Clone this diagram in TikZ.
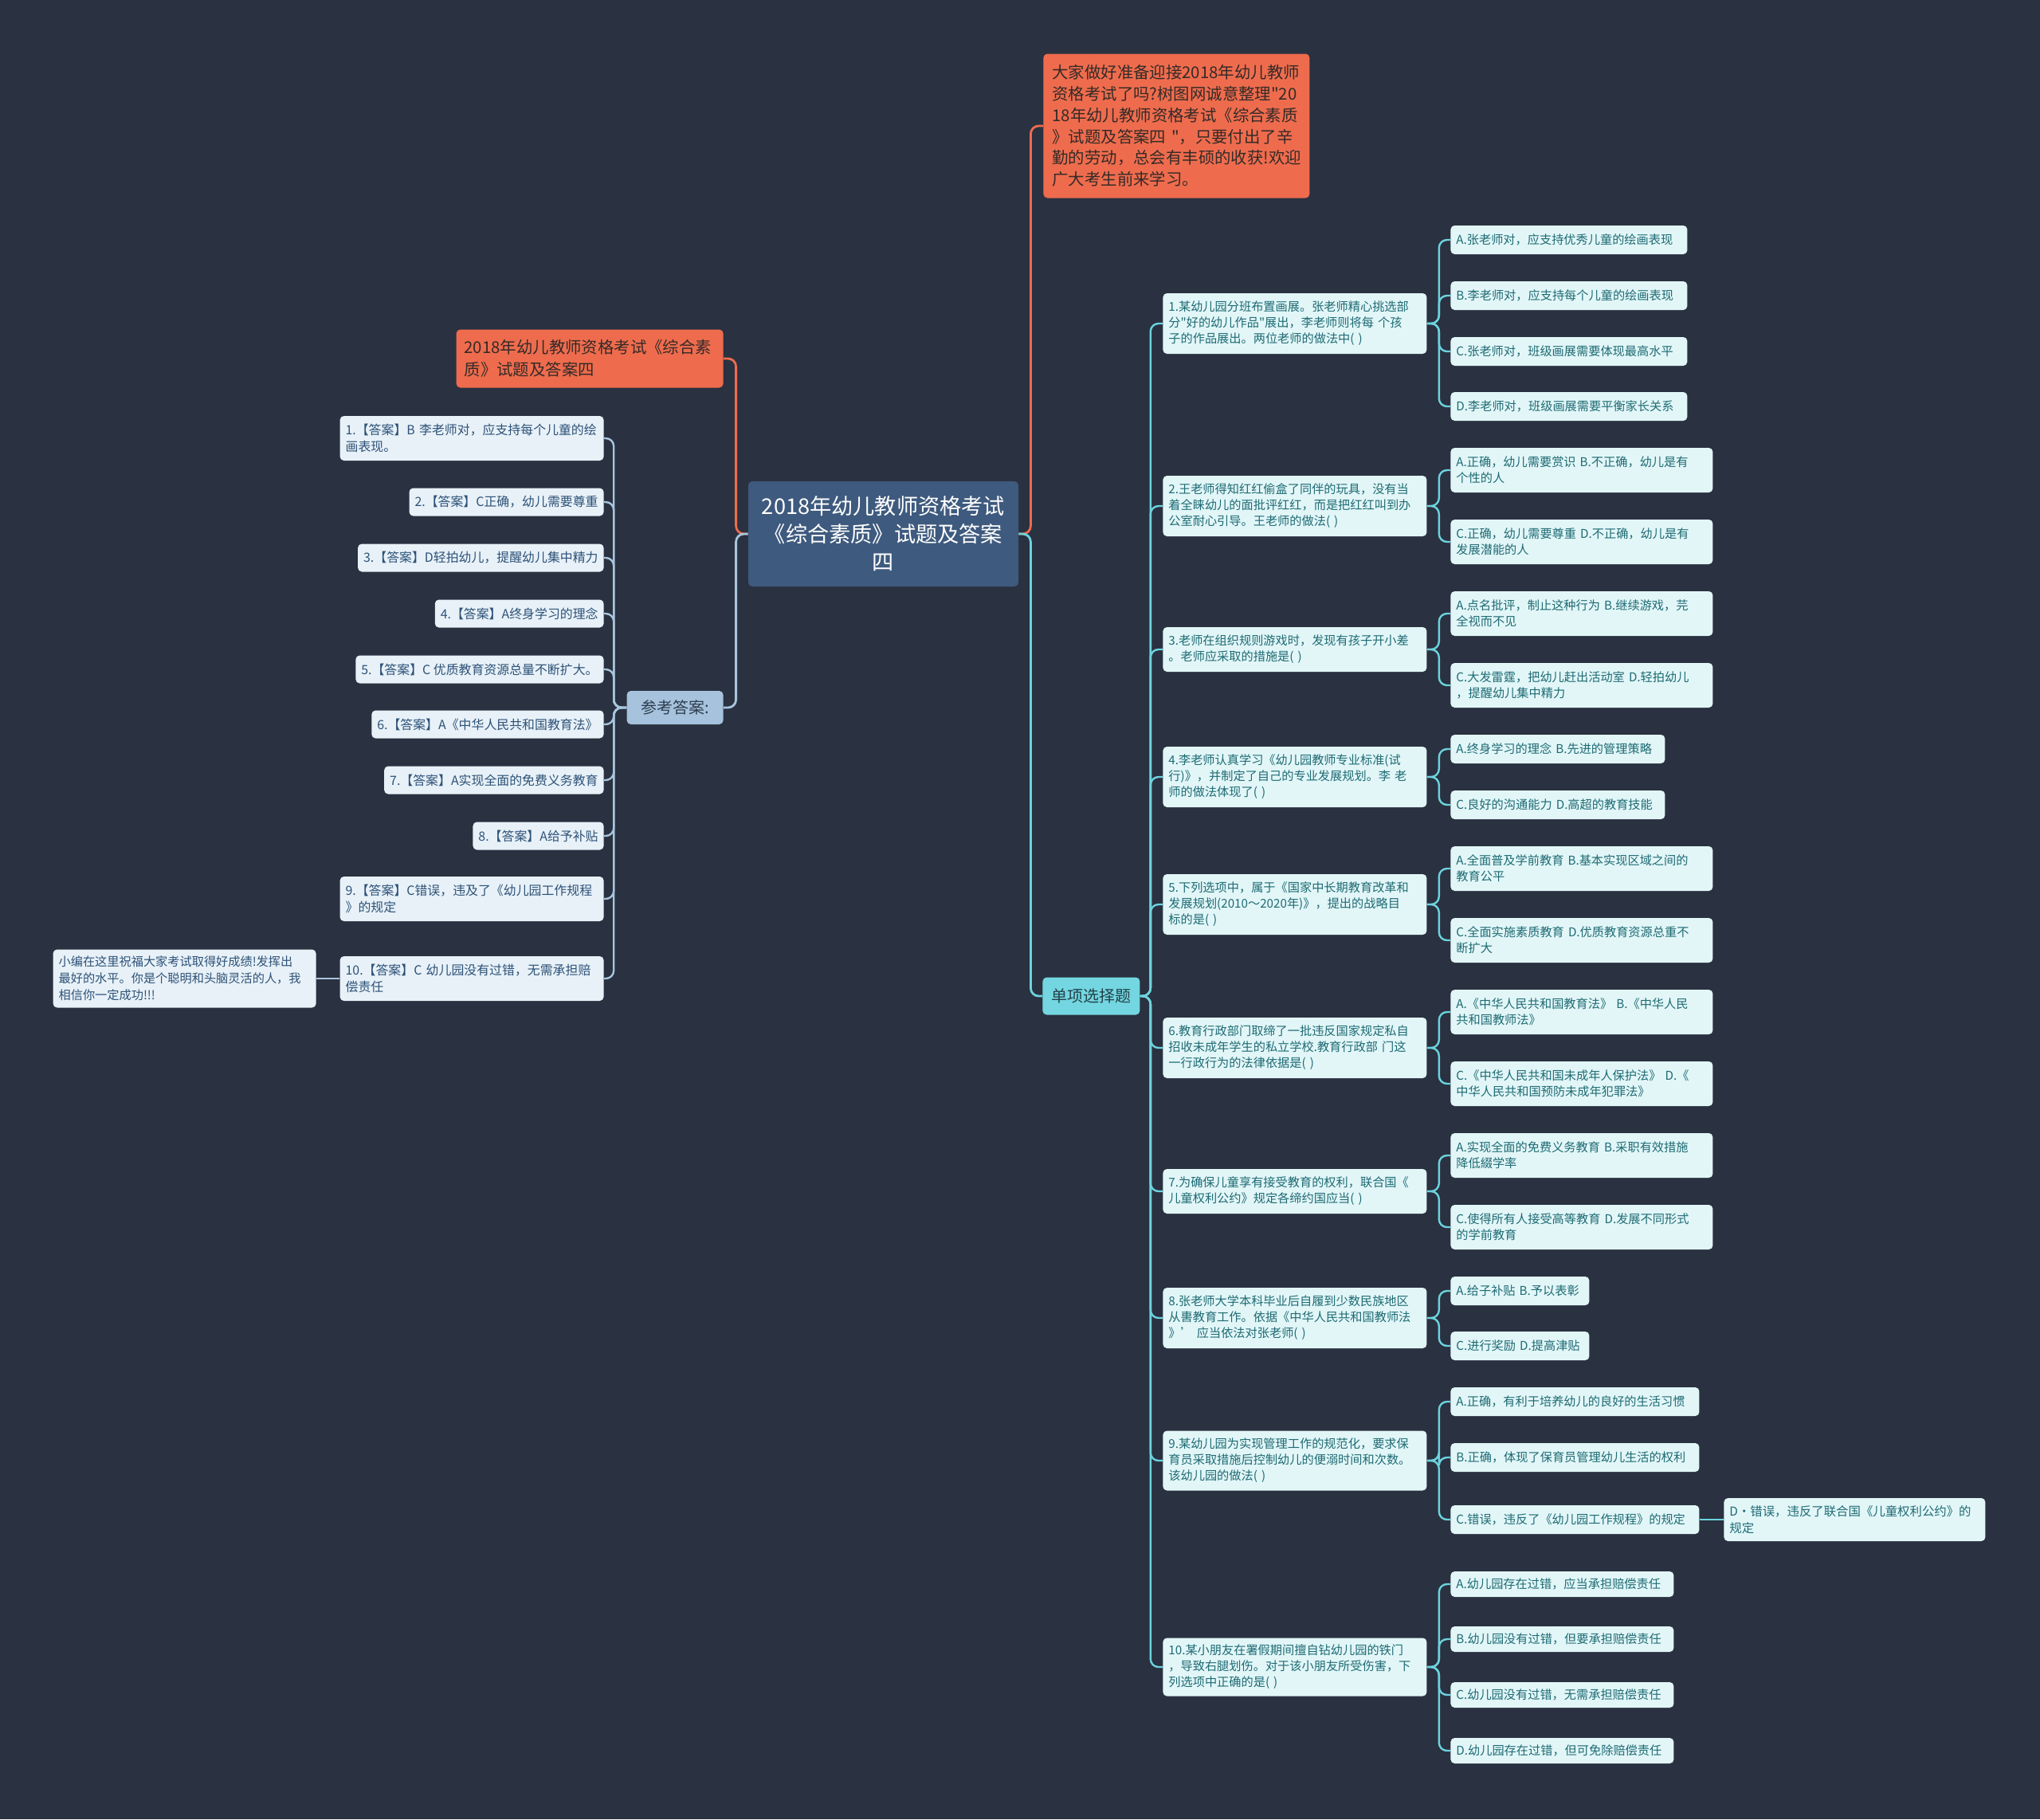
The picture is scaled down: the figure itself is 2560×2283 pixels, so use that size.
\documentclass[tikz,border=0pt]{standalone}
\usepackage{fontspec}
\setmainfont{Noto Sans CJK SC}[Ligatures=TeXOff]
\definecolor{bg}{HTML}{2A3140}
\definecolor{orn}{HTML}{EE6C4D}
\definecolor{orntext}{HTML}{352A28}
\definecolor{cfill}{HTML}{3E5A7E}
\definecolor{ansfill}{HTML}{A6C2DC}
\definecolor{anstext}{HTML}{2E3E50}
\definecolor{lconn}{HTML}{A9C5DE}
\definecolor{afill}{HTML}{E8F1F8}
\definecolor{atext}{HTML}{2D5277}
\definecolor{sfill}{HTML}{73D6E0}
\definecolor{stext}{HTML}{23424A}
\definecolor{rconn}{HTML}{6CD3DE}
\definecolor{qfill}{HTML}{E2F6F8}
\definecolor{qtext}{HTML}{1E6B73}
\begin{document}
\begin{tikzpicture}[x=0.5pt,y=-0.5pt,
  box/.style={rounded corners=2.5pt, inner ysep=1pt, align=left},
  qb/.style 2 args={box, fill=qfill, text=qtext, inner xsep=3.5pt, font=\fontsize{7.6pt}{10pt}\selectfont, anchor=west, text width=#1, minimum height=#2},
  ab/.style={box, fill=afill, text=atext, inner xsep=3.5pt, font=\fontsize{7.95pt}{10.3pt}\selectfont, anchor=east},
  rc/.style={draw=rconn, line width=1.2pt, rounded corners=5pt},
  lc/.style={draw=lconn, line width=1.2pt, rounded corners=5pt},
  oc/.style={draw=orn, line width=1.4pt, rounded corners=5pt},
]
\fill[bg] (0,0) rectangle (2560,2283);
\useasboundingbox (0,0) rectangle (2560,2283);

% central and main branches
\node[box, fill=cfill, text=white, align=center, inner xsep=3.5pt, text width=162.5pt, minimum height=66pt,
  font=\fontsize{13.6pt}{17.5pt}\selectfont] (c) at (1108.5,670) {2018年幼儿教师资格考试\\《综合素质》试题及答案\\四};
\node[box, fill=orn, text=orntext, anchor=west, inner xsep=5.5pt, text width=156pt, minimum height=90.5pt,
  font=\fontsize{10.2pt}{13.4pt}\selectfont] (intro) at (1309,158) {大家做好准备迎接2018年幼儿教师\\资格考试了吗?树图网诚意整理"20\\18年幼儿教师资格考试《综合素质\\》试题及答案四~"，只要付出了辛\\勤的劳动，总会有丰硕的收获!欢迎\\广大考生前来学习。};
\node[box, fill=orn, text=orntext, anchor=east, inner xsep=5pt, text width=157.5pt, minimum height=36.5pt,
  font=\fontsize{10.2pt}{14pt}\selectfont] (title) at (908,450) {2018年幼儿教师资格考试《综合素\\质》试题及答案四};
\node[box, fill=ansfill, text=anstext, anchor=east, align=center, minimum width=60.5pt, minimum height=21pt,
  font=\fontsize{10pt}{12pt}\selectfont] (ans) at (908,888) {参考答案:};
\node[box, fill=sfill, text=stext, anchor=west, align=center, minimum width=61pt, minimum height=23.5pt,
  font=\fontsize{10pt}{12pt}\selectfont] (single) at (1308,1250) {单项选择题};

\draw[oc] (c.east) -- ++(15,0) |- (intro.west);
\draw[rc, line width=1.4pt] (c.east) -- ++(15,0) |- (single.west);
\draw[oc] (c.west) -- ++(-15,0) |- (title.east);
\draw[lc, line width=1.4pt] (c.west) -- ++(-15,0) |- (ans.east);

% answers
\node[ab, text width=158.5pt, minimum height=28pt] (a1) at (758,550) {1.【答案】B 李老师对，应支持每个儿童的绘\\画表现。};
\node[ab, minimum height=17.5pt] (a2) at (758,630) {2.【答案】C正确，幼儿需要尊重};
\node[ab, minimum height=17.5pt] (a3) at (758,700) {3.【答案】D轻拍幼儿，提醒幼儿集中精力};
\node[ab, minimum height=17.5pt] (a4) at (758,770) {4.【答案】A终身学习的理念};
\node[ab, minimum height=17.5pt] (a5) at (758,840) {5.【答案】C 优质教育资源总量不断扩大。};
\node[ab, minimum height=17.5pt] (a6) at (758,909) {6.【答案】A《中华人民共和国教育法》};
\node[ab, minimum height=17.5pt] (a7) at (758,979) {7.【答案】A实现全面的免费义务教育};
\node[ab, minimum height=17.5pt] (a8) at (758,1049) {8.【答案】A给予补贴};
\node[ab, text width=158.5pt, minimum height=28pt] (a9) at (758,1128) {9.【答案】C错误，违及了《幼儿园工作规程\\》的规定};
\node[ab, text width=158.5pt, minimum height=28pt] (a10) at (758,1228) {10.【答案】C 幼儿园没有过错，无需承担赔\\偿责任};
\node[ab, text width=158pt, minimum height=36.5pt, font=\fontsize{7.6pt}{10.4pt}\selectfont] (note) at (397,1228) {小编在这里祝福大家考试取得好成绩!发挥出\\最好的水平。你是个聪明和头脑灵活的人，我\\相信你一定成功!!!};
\foreach \i in {1,...,10} {\draw[lc] (ans.west) -- ++(-16,0) |- (a\i.east);}
\draw[lc] (a10.west) -- (note.east);

% questions
\node[qb={158.5pt}{38pt}] (q1) at (1459,406) {1.某幼儿园分班布置画展。张老师精心挑选部\\分"好的幼儿作品"展出，李老师则将每 个孩\\子的作品展出。两位老师的做法中( )};
\node[qb={158.5pt}{38pt}] (q2) at (1459,635) {2.王老师得知红红偷盒了同伴的玩具，没有当\\着全睐幼儿的面批评红红，而是把红红叫到办\\公室耐心引导。王老师的做法( )};
\node[qb={158.5pt}{28pt}] (q3) at (1459,815) {3.老师在组织规则游戏时，发现有孩子开小差\\。老师应采取的措施是( )};
\node[qb={158.5pt}{38pt}] (q4) at (1459,975) {4.李老师认真学习《幼儿园教师专业标准(试\\行)》，并制定了自己的专业发展规划。李 老\\师的做法体现了( )};
\node[qb={158.5pt}{38pt}] (q5) at (1459,1135) {5.下列选项中，属于《国家中长期教育改革和\\发展规划(2010～2020年)》，提出的战略目\\标的是( )};
\node[qb={158.5pt}{38pt}] (q6) at (1459,1315) {6.教育行政部门取缔了一批违反国家规定私自\\招收未成年学生的私立学校.教育行政部 门这\\一行政行为的法律依据是( )};
\node[qb={158.5pt}{28pt}] (q7) at (1459,1495) {7.为确保儿童享有接受教育的权利，联合国《\\儿童权利公约》规定各缔约国应当( )};
\node[qb={158.5pt}{38pt}] (q8) at (1459,1654) {8.张老师大学本科毕业后自履到少数民族地区\\从軎教育工作。依据《中华人民共和国教师法\\》’ 应当依法对张老师( )};
\node[qb={158.5pt}{37.5pt}] (q9) at (1459,1833) {9.某幼儿园为实现管理工作的规范化，要求保\\育员采取措施后控制幼儿的便溺时间和次数。\\该幼儿园的做法( )};
\node[qb={158.5pt}{36.5pt}] (q10) at (1459,2092) {10.某小朋友在署假期间擅自钻幼儿园的铁门\\，导致右腿划伤。对于该小朋友所受伤害，下\\列选项中正确的是( )};
\foreach \i in {1,...,10} {\draw[rc] (single.east) -- ++(13,0) |- (q\i.west);}

% options
\node[qb={141.5pt}{18pt}] (q1a) at (1820,301) {A.张老师对，应支持优秀儿童的绘画表现};
\node[qb={141.5pt}{18pt}] (q1b) at (1820,371) {B.李老师对，应支持每个儿童的绘画表现};
\node[qb={141.5pt}{18pt}] (q1c) at (1820,441) {C.张老师对，班级画展需要体现最高水平};
\node[qb={141.5pt}{18pt}] (q1d) at (1820,510) {D.李老师对，班级画展需要平衡家长关系};
\node[qb={157.5pt}{28pt}] (q2a) at (1820,590) {A.正确，幼儿需要赏识 B.不正确，幼儿是有\\个性的人};
\node[qb={157.5pt}{28pt}] (q2c) at (1820,680) {C.正确，幼儿需要尊重 D.不正确，幼儿是有\\发展潜能的人};
\node[qb={157.5pt}{28pt}] (q3a) at (1820,770) {A.点名批评，制止这种行为 B.继续游戏，芫\\全视而不见};
\node[qb={157.5pt}{28pt}] (q3c) at (1820,860) {C.大发雷霆，把幼儿赶出活动室 D.轻拍幼儿\\，提醒幼儿集中精力};
\node[qb={127.5pt}{18pt}] (q4a) at (1820,940) {A.终身学习的理念 B.先进的管理策略};
\node[qb={127.5pt}{18pt}] (q4c) at (1820,1010) {C.良好的沟通能力 D.高超的教育技能};
\node[qb={157.5pt}{28pt}] (q5a) at (1820,1090) {A.全面普及学前教育 B.基本实现区域之间的\\教育公平};
\node[qb={157.5pt}{28pt}] (q5c) at (1820,1180) {C.全面实施素质教育 D.优质教育资源总重不\\断扩大};
\node[qb={157.5pt}{28pt}] (q6a) at (1820,1270) {A.《中华人民共和国教育法》 B.《中华人民\\共和国教师法》};
\node[qb={157.5pt}{28pt}] (q6c) at (1820,1360) {C.《中华人民共和国未成年人保护法》 D.《\\中华人民共和国预防未成年犯罪法》};
\node[qb={157.5pt}{28pt}] (q7a) at (1820,1450) {A.实现全面的免费义务教育 B.采职有效措施\\降低綴学率};
\node[qb={157.5pt}{28pt}] (q7c) at (1820,1540) {C.使得所有人接受高等教育 D.发展不同形式\\的学前教育};
\node[qb={80pt}{18pt}] (q8a) at (1820,1620) {A.给子补贴 B.予以表彰};
\node[qb={80pt}{18pt}] (q8c) at (1820,1689) {C.进行奖励 D.提高津贴};
\node[qb={149pt}{18pt}] (q9a) at (1820,1759) {A.正确，有利于培养幼儿的良好的生活习惯};
\node[qb={149pt}{18pt}] (q9b) at (1820,1829) {B.正确，体现了保育员管理幼儿生活的权利};
\node[qb={149pt}{18pt}] (q9c) at (1820,1907) {C.错误，违反了《幼儿园工作规程》的规定};
\node[qb={157pt}{27pt}, font=\fontsize{7.7pt}{10.4pt}\selectfont] (q9d) at (2163,1907) {D•错误，违反了联合国《儿童权利公约》的\\规定};
\node[qb={133pt}{16pt}] (q10a) at (1820,1988) {A.幼儿园存在过错，应当承担赔偿责任};
\node[qb={133pt}{16pt}] (q10b) at (1820,2057) {B.幼儿园没有过错，但要承担赔偿责任};
\node[qb={133pt}{16pt}] (q10c) at (1820,2127) {C.幼儿园没有过错，无需承担赔偿责任};
\node[qb={133pt}{16pt}] (q10d) at (1820,2197) {D.幼儿园存在过错，但可免除赔偿责任};

\foreach \q/\o in {q1/q1a,q1/q1b,q1/q1c,q1/q1d,q2/q2a,q2/q2c,q3/q3a,q3/q3c,q4/q4a,q4/q4c,q5/q5a,q5/q5c,q6/q6a,q6/q6c,q7/q7a,q7/q7c,q8/q8a,q8/q8c,q9/q9a,q9/q9b,q9/q9c,q10/q10a,q10/q10b,q10/q10c,q10/q10d}
  {\draw[rc] (\q.east) -- ++(15,0) |- (\o.west);}
\draw[rc] (q9c.east) -- (q9d.west);
\end{tikzpicture}
\end{document}
